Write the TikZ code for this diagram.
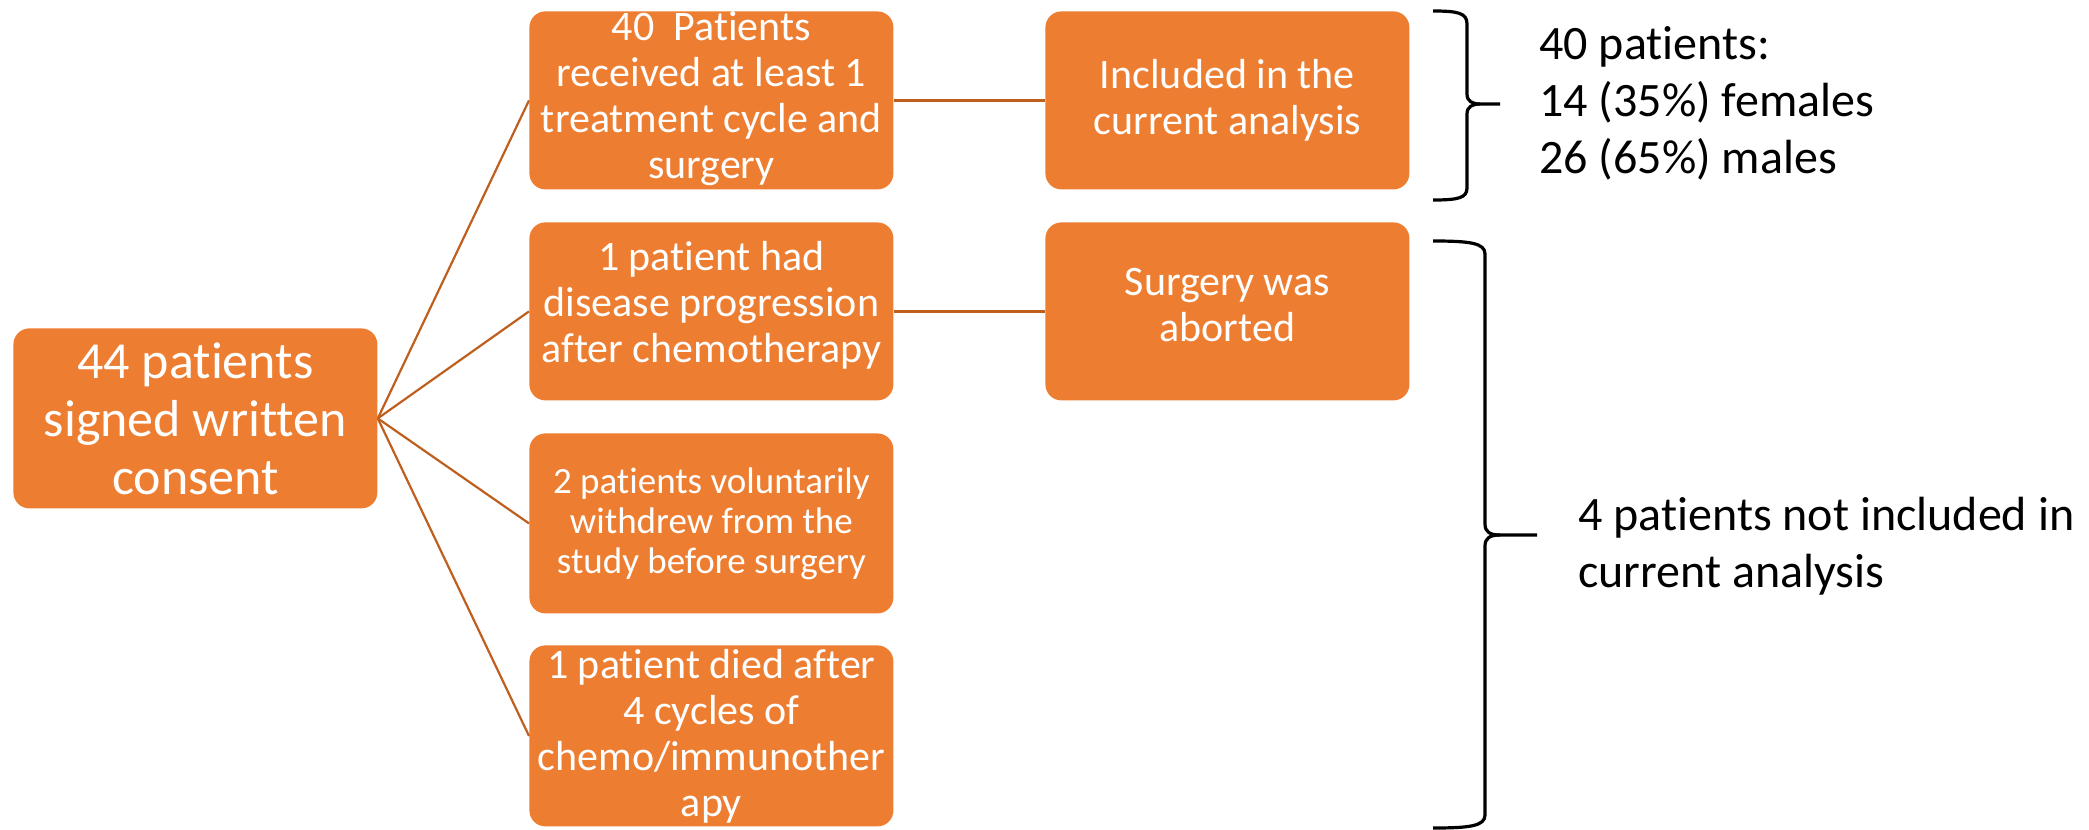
\documentclass[tikz,border=0pt]{standalone}
\usepackage{fontspec}
\setmainfont[Ligatures={NoCommon,NoContextual},Contextuals=NoAlternate]{Carlito}
\definecolor{boxorange}{RGB}{237,125,49}
\definecolor{linkorange}{RGB}{190,95,30}
\begin{document}
\begin{tikzpicture}[x=0.5pt,y=-0.5pt,
  box/.style={draw=none, fill=boxorange, rounded corners=8pt, minimum width=182pt, minimum height=89pt, inner sep=0pt, anchor=north west},
  boxtext/.style={text=white, align=center, inner sep=0pt, font=\fontsize{21}{23}\selectfont},
  conn/.style={draw=linkorange, line width=1.1pt},
  bracestyle/.style={draw=black, line width=1.6pt},
  sidetext/.style={text=black, align=left, inner sep=0pt, anchor=west, font=\fontsize{24}{28.5}\selectfont}
]
\useasboundingbox (0,0) rectangle (2089,830);

% boxes
\node[box, minimum height=90pt] (start) at (13,328) {};
\node[box] (b1) at (529,11) {};
\node[box] (b2) at (529,222) {};
\node[box, minimum height=90pt] (b3) at (529,433) {};
\node[box, minimum height=90.5pt] (b4) at (529,645) {};
\node[box] (c1) at (1045,11) {};
\node[box] (c2) at (1045,222) {};

% texts
\node[boxtext, font=\fontsize{26}{29}\selectfont] (tstart) at (start.center) {44 patients\\signed written\\consent};
\node[boxtext] (tb1) at ([yshift=1pt]b1.center) {40\ \ Patients\\received at least 1\\treatment cycle and\\surgery};
\node[boxtext] (tb2) at ([yshift=3pt]b2.center) {1 patient had\\disease progression\\after chemotherapy};
\node[boxtext, font=\fontsize{18.5}{20}\selectfont] (tb3) at (b3.center) {2 patients voluntarily\\withdrew from the\\study before surgery};
\node[boxtext] (tb4) at ([yshift=0pt]b4.center) {1 patient died after\\4 cycles of\\chemo/immunother\\apy};
\node[boxtext] (tc1) at (c1.center) {Included in the\\current analysis};
\node[boxtext] (tc2) at ([yshift=3pt]c2.center) {Surgery was\\aborted};

% connectors
\draw[conn] (start.east) -- (b1.west);
\draw[conn] (start.east) -- (b2.west);
\draw[conn] (start.east) -- (b3.west);
\draw[conn] (start.east) -- (b4.west);
\draw[conn] (b1.east) -- (c1.west);
\draw[conn] (b2.east) -- (c2.west);

% brace 1
\draw[bracestyle] (1433,11) .. controls (1458,11) and (1467,13) .. (1467,24) -- (1467,94)
  .. controls (1467,101) and (1472,104) .. (1480,104) -- (1500,104);
\draw[bracestyle] (1480,104) .. controls (1472,104) and (1467,107) .. (1467,114) -- (1467,188)
  .. controls (1467,198) and (1458,200) .. (1433,200);
% brace 2
\draw[bracestyle] (1433,241) .. controls (1470,241) and (1485,243) .. (1485,254) -- (1485,524)
  .. controls (1485,532) and (1490,535) .. (1500,535) -- (1537,535);
\draw[bracestyle] (1500,535) .. controls (1490,535) and (1485,538) .. (1485,546) -- (1485,815)
  .. controls (1485,826) and (1470,828) .. (1433,828);

% side texts
\node[sidetext] (s1) at (1539,103) {40 patients:\\14 (35\%) females\\26 (65\%) males};
\node[sidetext] (s2) at (1578,546) {4 patients not included in\\current analysis};
\end{tikzpicture}
\end{document}
